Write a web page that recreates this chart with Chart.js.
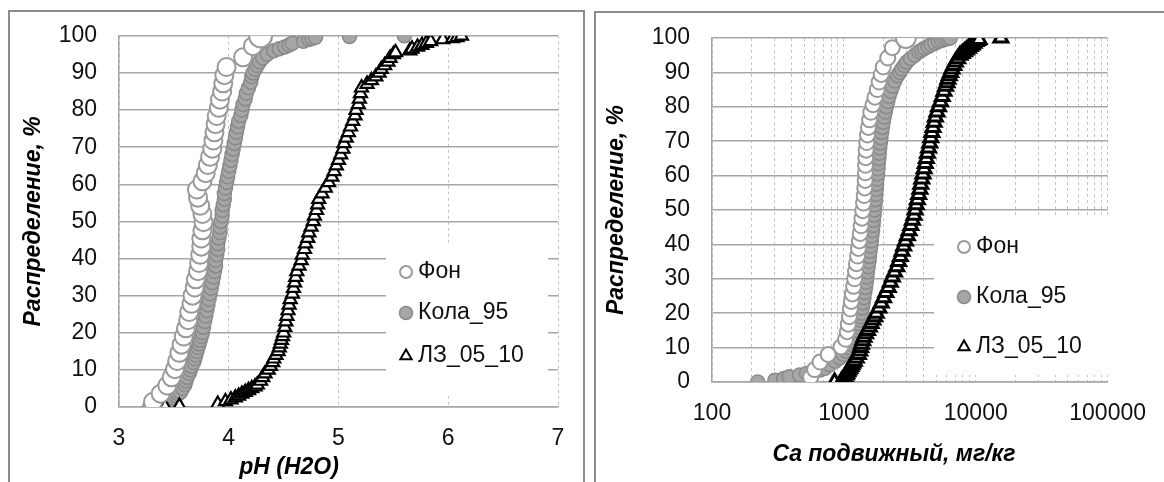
<!DOCTYPE html>
<html>
<head>
<meta charset="utf-8">
<script src="https://cdn.jsdelivr.net/npm/chart.js@4.4.1/dist/chart.umd.min.js"></script>
<style>
body{margin:0;background:#fff;width:1164px;height:482px;overflow:hidden;position:relative}
.frame{position:absolute;border:2px solid #8c8c8c;box-sizing:border-box}
#f1{left:8px;top:10px;width:577px;height:500px}
#f2{left:594px;top:11px;width:600px;height:500px}
canvas{position:absolute;top:0}
#ph{left:0}
#ca{left:590px}
</style>
</head>
<body>
<div class="frame" id="f1"></div>
<div class="frame" id="f2"></div>
<canvas id="ph" width="590" height="482"></canvas>
<canvas id="ca" width="574" height="482"></canvas>
<script>
// cumulative share of samples, %
const pctFon = [
  1.4, 3.6, 5.8, 8.0, 10.2, 12.4, 14.6, 16.8, 19.0, 21.2,
  23.4, 25.6, 27.8, 30.0, 32.2, 34.4, 36.6, 38.8, 41.0, 43.2,
  45.4, 47.6, 49.8, 52.0, 54.2, 56.4, 58.6, 60.8, 63.0, 65.2,
  67.4, 69.6, 71.8, 74.0, 76.2, 78.4, 80.6, 82.8, 85.0, 87.2,
  89.4, 91.6, 94.2, 97.2, 100
];
const pctKola = [
  0, 0.5, 1, 1.5, 2, 2.5, 3, 3.5, 4, 5,
  6, 7, 8, 9, 10, 11, 12, 13, 14, 15,
  16, 17, 18, 19, 20, 21.5, 23, 24.5, 26, 27.5,
  29, 30.5, 32, 33.5, 35, 36.5, 38, 39.5, 41, 42.5,
  44, 45.5, 47, 48.5, 50, 51.5, 53, 54.5, 56, 57.5,
  59, 60.5, 62, 63.5, 65, 66.5, 68, 69.5, 71, 72.5,
  74, 75.5, 77, 78.5, 80, 81.5, 83, 84.5, 86, 87.5,
  89, 90, 91, 92, 93, 94, 95, 96, 96.5, 97,
  97.5, 98, 98.5, 99, 99.3, 99.6, 99.8, 100
];
const pctLZ = [
  0, 0.3, 0.8, 1.5, 2, 2.5, 3, 3.5, 4, 4.5,
  5, 5.5, 6, 7, 8, 9, 10, 11, 12, 13,
  14, 15, 16, 17, 18, 19, 20, 21.5, 23, 24.5,
  26, 27.5, 29, 30.5, 32, 33.5, 35, 36.5, 38, 39.5,
  41, 42.5, 44, 45.5, 47, 48.5, 50, 51.5, 53, 54.5,
  56, 57.5, 59, 60.5, 62, 63.5, 65, 66.5, 68, 69.5,
  71, 72.5, 74, 75.5, 77, 78.5, 80, 81.5, 83, 84.5,
  86, 87, 88, 89, 90, 91, 92, 93, 94, 95,
  95.5, 96, 96.5, 97, 97.5, 98, 98.5, 99, 99.3, 99.6,
  100
];

// pH (H2O)
const phFon = [
  3.31, 3.38, 3.44, 3.48, 3.51, 3.53, 3.55, 3.57, 3.59, 3.61,
  3.63, 3.64, 3.66, 3.67, 3.69, 3.70, 3.72, 3.73, 3.74, 3.75,
  3.75, 3.76, 3.77, 3.76, 3.74, 3.72, 3.71, 3.76, 3.79, 3.81,
  3.83, 3.85, 3.86, 3.87, 3.88, 3.89, 3.91, 3.92, 3.94, 3.95,
  3.96, 3.98, 4.13, 4.22, 4.29
];
const phKola = [
  3.28, 3.33, 3.40, 3.44, 3.47, 3.50, 3.52, 3.54, 3.56, 3.58,
  3.60, 3.61, 3.62, 3.64, 3.65, 3.66, 3.68, 3.69, 3.70, 3.71,
  3.72, 3.73, 3.74, 3.75, 3.76, 3.77, 3.78, 3.79, 3.80, 3.81,
  3.82, 3.83, 3.84, 3.85, 3.86, 3.87, 3.88, 3.88, 3.89, 3.90,
  3.90, 3.91, 3.92, 3.92, 3.93, 3.94, 3.94, 3.95, 3.96, 3.96,
  3.97, 3.98, 3.99, 4.00, 4.01, 4.02, 4.03, 4.04, 4.05, 4.06,
  4.07, 4.08, 4.09, 4.11, 4.12, 4.13, 4.15, 4.16, 4.18, 4.20,
  4.21, 4.22, 4.24, 4.26, 4.28, 4.31, 4.35, 4.41, 4.46, 4.51,
  4.55, 4.58, 4.68, 4.73, 4.76, 4.79, 5.10, 5.60
];
const phLZ = [
  3.42, 3.55, 3.90, 3.97, 4.02, 4.06, 4.09, 4.12, 4.15, 4.18,
  4.21, 4.24, 4.26, 4.29, 4.31, 4.33, 4.36, 4.38, 4.40, 4.41,
  4.43, 4.45, 4.46, 4.47, 4.48, 4.49, 4.50, 4.51, 4.52, 4.53,
  4.54, 4.55, 4.56, 4.58, 4.59, 4.60, 4.61, 4.62, 4.64, 4.66,
  4.67, 4.69, 4.70, 4.72, 4.73, 4.75, 4.77, 4.78, 4.80, 4.81,
  4.82, 4.85, 4.88, 4.91, 4.94, 4.96, 4.98, 5.00, 5.02, 5.04,
  5.05, 5.07, 5.09, 5.11, 5.13, 5.15, 5.16, 5.18, 5.19, 5.20,
  5.21, 5.26, 5.30, 5.34, 5.37, 5.39, 5.42, 5.45, 5.47, 5.50,
  5.52, 5.65, 5.67, 5.72, 5.76, 5.80, 5.84, 5.95, 6.04, 6.08,
  6.12
];

// Ca mobile, mg/kg
const caFon = [
  560, 600, 660, 760, 950, 1030, 1060, 1080, 1100, 1120,
  1140, 1160, 1185, 1205, 1225, 1245, 1270, 1290, 1310, 1330,
  1350, 1370, 1390, 1410, 1425, 1440, 1450, 1455, 1460, 1465,
  1475, 1490, 1510, 1535, 1565, 1600, 1660, 1720, 1790, 1850,
  1920, 1990, 2150, 2330, 2950
];
const caKola = [
  222, 300, 350, 385, 460, 520, 590, 660, 720, 780,
  860, 930, 990, 1040, 1080, 1120, 1160, 1190, 1220, 1250,
  1280, 1300, 1320, 1340, 1360, 1380, 1400, 1420, 1440, 1460,
  1480, 1495, 1510, 1530, 1550, 1565, 1580, 1600, 1615, 1630,
  1650, 1665, 1680, 1695, 1710, 1720, 1735, 1745, 1760, 1770,
  1785, 1800, 1815, 1825, 1840, 1855, 1870, 1890, 1910, 1935,
  1960, 1990, 2020, 2060, 2100, 2150, 2200, 2270, 2340, 2430,
  2550, 2650, 2750, 2880, 3000, 3200, 3450, 3700, 3900, 4100,
  4350, 4600, 4900, 5200, 5500, 5800, 6100, 6400
];
const caLZ = [
  850, 960, 1000, 1020, 1040, 1050, 1070, 1090, 1110, 1130,
  1150, 1170, 1200, 1240, 1290, 1320, 1340, 1360, 1390, 1420,
  1460, 1510, 1560, 1610, 1660, 1710, 1760, 1840, 1920, 2000,
  2080, 2170, 2250, 2330, 2420, 2520, 2600, 2680, 2760, 2840,
  2930, 3030, 3120, 3220, 3310, 3400, 3470, 3540, 3610, 3690,
  3770, 3830, 3900, 3980, 4060, 4140, 4220, 4300, 4390, 4480,
  4560, 4650, 4740, 4840, 4940, 5080, 5220, 5400, 5570, 5740,
  5900, 6050, 6150, 6300, 6450, 6600, 6800, 7000, 7300, 7600,
  7900, 8200, 8500, 8800, 9100, 9400, 9700, 10000, 10300, 10600,
  15500
];

const seriesNames = ['Фон', 'Кола_95', 'ЛЗ_05_10'];
const caGrid = [
  100, 200, 300, 400, 500, 600, 700, 800, 900,
  1000, 2000, 3000, 4000, 5000, 6000, 7000, 8000, 9000,
  10000, 20000, 30000, 40000, 50000, 60000, 70000, 80000, 90000,
  100000
];
const caLabels = [100, 1000, 10000, 100000];

const FONT = '"Liberation Sans", Arial, sans-serif';
Chart.defaults.font.family = FONT;

const pts = (xs, ys) => xs.map((x, i) => ({x: x, y: ys[i]}));

// white legend box under the markers, then markers and names on top
const boxLegend = {
  id: 'boxLegend',
  beforeDatasetsDraw(chart, args, o) {
    const ctx = chart.ctx;
    ctx.save();
    ctx.fillStyle = '#fff';
    ctx.fillRect(o.x, o.y, o.w, o.h);
    ctx.restore();
  },
  afterDraw(chart, args, o) {
    const ctx = chart.ctx;
    ctx.save();
    chart.data.datasets.forEach((ds, i) => {
      const y = o.rows[i];
      ctx.fillStyle = ds.backgroundColor;
      ctx.strokeStyle = ds.borderColor;
      ctx.lineWidth = Math.min(ds.borderWidth, 2);
      Chart.helpers.drawPoint(ctx, {pointStyle: ds.pointStyle, radius: o.markerR[i], rotation: 0, borderWidth: ds.borderWidth}, o.markerX, y);
      ctx.fillStyle = '#111';
      ctx.font = o.size + 'px ' + FONT;
      ctx.textBaseline = 'middle';
      ctx.textAlign = 'left';
      ctx.fillText(ds.label, o.textX, y);
    });
    ctx.restore();
  }
};

const xTitle = {
  id: 'xTitle',
  afterDraw(chart, args, o) {
    const ctx = chart.ctx;
    ctx.save();
    ctx.fillStyle = '#000';
    ctx.font = 'italic bold 23px ' + FONT;
    ctx.textAlign = 'center';
    ctx.textBaseline = 'middle';
    ctx.fillText(o.text, o.x, o.y);
    ctx.restore();
  }
};

function datasets(xFon, xKola, xLZ, r) {
  return [
    {label: seriesNames[0], data: pts(xFon, pctFon), pointStyle: 'circle',
     backgroundColor: '#ffffff', borderColor: '#9a9a9a', borderWidth: 2,
     pointRadius: c => c.dataIndex === pctFon.length - 1 ? r.fonTop : r.fon, order: 0},
    {label: seriesNames[1], data: pts(xKola, pctKola), pointStyle: 'circle',
     backgroundColor: '#a6a6a6', borderColor: '#8a8a8a', borderWidth: 1.5,
     pointRadius: r.kola, order: 2},
    {label: seriesNames[2], data: pts(xLZ, pctLZ), pointStyle: 'triangle',
     backgroundColor: '#ffffff', borderColor: '#000000', borderWidth: r.lzLine,
     pointRadius: r.lz, order: 1}
  ];
}

function yAxis(width, titlePad) {
  return {
    min: 0, max: 100,
    ticks: {stepSize: 10, padding: 22, color: '#111', font: {size: 23}},
    grid: {color: '#a6a6a6', lineWidth: 1.5, drawTicks: false},
    border: {display: true, color: '#a6a6a6', width: 1.5},
    title: {display: true, text: 'Распределение, %', color: '#000',
            font: {size: 23, weight: 'bold', style: 'italic'}, padding: {top: titlePad, bottom: 0}},
    afterFit: s => { s.width = width; }
  };
}

new Chart(document.getElementById('ph'), {
  type: 'scatter',
  data: {datasets: datasets(phFon, phKola, phLZ, {fon: 9, fonTop: 11.5, kola: 7, lz: 7.5, lzLine: 2.2})},
  options: {
    responsive: false, animation: false, showLine: false,
    layout: {padding: {top: 35, right: 32, left: 0, bottom: 0}},
    plugins: {
      legend: {display: false}, tooltip: {enabled: false},
      boxLegend: {x: 386, y: 246, w: 162, h: 150, rows: [272, 313, 356], markerX: 406, textX: 418, markerR: [6, 6.5, 6.5], size: 23},
      xTitle: {text: 'pH (H2O)', x: 289, y: 468}
    },
    scales: {
      x: {
        type: 'linear', min: 3, max: 7,
        ticks: {stepSize: 1, padding: 18, color: '#111', font: {size: 23}},
        grid: {color: '#c4c4c4', lineWidth: 1, drawTicks: false},
        border: {display: true, color: '#a6a6a6', width: 1.5, dash: [3, 3]},
        afterFit: s => { s.height = 75; }
      },
      y: yAxis(119, 20)
    }
  },
  plugins: [boxLegend, xTitle]
});

new Chart(document.getElementById('ca'), {
  type: 'scatter',
  data: {datasets: datasets(caFon, caKola, caLZ, {fon: 7.5, fonTop: 10, kola: 7, lz: 8, lzLine: 3})},
  options: {
    responsive: false, animation: false, showLine: false,
    layout: {padding: {top: 38, right: 53, left: 0, bottom: 0}},
    plugins: {
      legend: {display: false}, tooltip: {enabled: false},
      boxLegend: {x: 344, y: 217, w: 174, h: 158, rows: [247, 297, 347], markerX: 374, textX: 386, markerR: [6, 6.5, 6.5], size: 23},
      xTitle: {text: 'Ca подвижный, мг/кг', x: 304, y: 455}
    },
    scales: {
      x: {
        type: 'logarithmic', min: 100, max: 100000,
        afterBuildTicks: s => { s.ticks = caGrid.map(v => ({value: v})); },
        ticks: {autoSkip: false, maxRotation: 0, padding: 18, color: '#111', font: {size: 23},
                callback: v => caLabels.includes(v) ? String(v) : ''},
        grid: {color: '#c4c4c4', lineWidth: 1, drawTicks: false},
        border: {display: true, color: '#a6a6a6', width: 1.5, dash: [3, 3]},
        afterFit: s => { s.height = 100; }
      },
      y: yAxis(122, 13)
    }
  },
  plugins: [boxLegend, xTitle]
});
</script>
</body>
</html>
